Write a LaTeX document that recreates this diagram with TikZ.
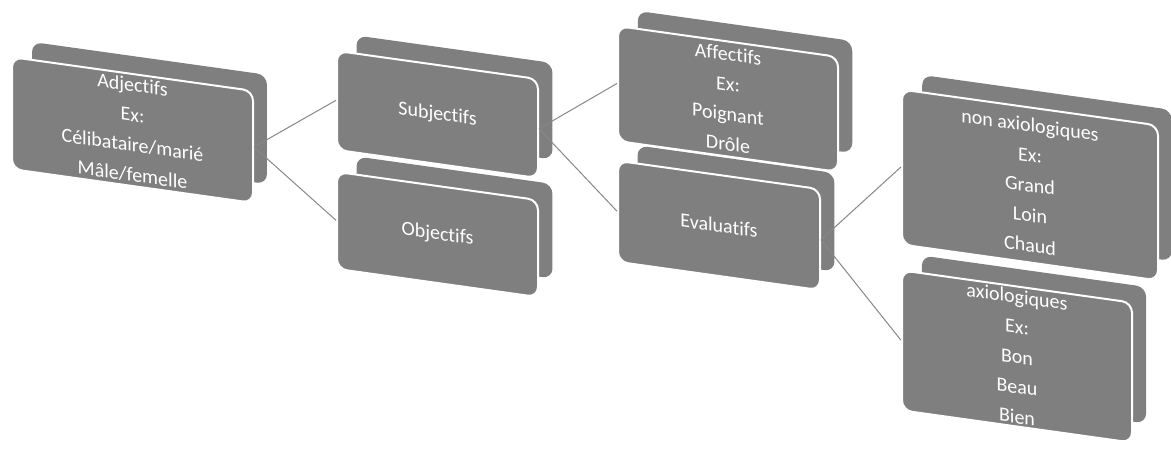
\documentclass[tikz,border=0pt]{standalone}
\usepackage{fontspec}
\setmainfont{Carlito}[RawFeature={-liga}]
\usepackage{xcolor}
\usepackage{tikz}
\usetikzlibrary{calc}
\definecolor{slabgray}{RGB}{127,127,127}
\definecolor{linkgray}{RGB}{135,135,135}

\begin{document}
\begin{tikzpicture}[x=1pt,y=-1pt,
  face/.style={yslant=-0.14,rectangle,rounded corners=10pt,fill=slabgray,draw=white,line width=2pt,
    inner sep=0pt,text=white,align=center,font=\fontsize{20}{30}\selectfont},
  depth/.style={yslant=-0.14,scale=0.975,rectangle,rounded corners=10pt,fill=slabgray,inner sep=0pt},
  link/.style={draw=linkgray,line width=1pt}]
\useasboundingbox (0,0) rectangle (1171,452);
% Adjectifs
\node[depth,minimum width=241pt,minimum height=112pt] at (149.5,113) {};
\node[face,minimum width=241pt,minimum height=112pt] (adj) at (132.5,130) {Adjectifs\\Ex:\\Célibataire/marié\\Mâle/femelle};
% Subjectifs
\node[depth,minimum width=201pt,minimum height=99pt] at (454.5,97.5) {};
\node[face,minimum width=201pt,minimum height=99pt] (subj) at (437.5,114.5) {Subjectifs};
% Objectifs
\node[depth,minimum width=201pt,minimum height=97pt] at (454.5,217.5) {};
\node[face,minimum width=201pt,minimum height=97pt] (obj) at (437.5,234.5) {Objectifs};
% Affectifs
\node[depth,minimum width=220pt,minimum height=115pt] at (745,82) {};
\node[face,minimum width=220pt,minimum height=115pt] (aff) at (728,99) {Affectifs\\Ex:\\Poignant\\Drôle};
% Evaluatifs
\node[depth,minimum width=202pt,minimum height=101pt] at (736,208.5) {};
\node[face,minimum width=202pt,minimum height=101pt] (eval) at (719,225.5) {Evaluatifs};
% non axiologiques
\node[depth,minimum width=256pt,minimum height=155pt] at (1047,168) {};
\node[face,minimum width=256pt,minimum height=155pt] (nonax) at (1030,185) {non axiologiques\\Ex:\\Grand\\Loin\\Chaud};
% axiologiques
\node[depth,minimum width=230pt,minimum height=140pt] at (1034,339.5) {};
\node[face,minimum width=230pt,minimum height=140pt] (ax) at (1017,356.5) {axiologiques\\Ex:\\Bon\\Beau\\Bien};
% Links
\draw[link] (adj.east) -- (subj.west);
\draw[link] (adj.east) -- (obj.west);
\draw[link] (subj.east) -- (aff.west);
\draw[link] (subj.east) -- (eval.west);
\draw[link] (eval.east) -- (nonax.west);
\draw[link] (eval.east) -- (ax.west);
\end{tikzpicture}
\end{document}
